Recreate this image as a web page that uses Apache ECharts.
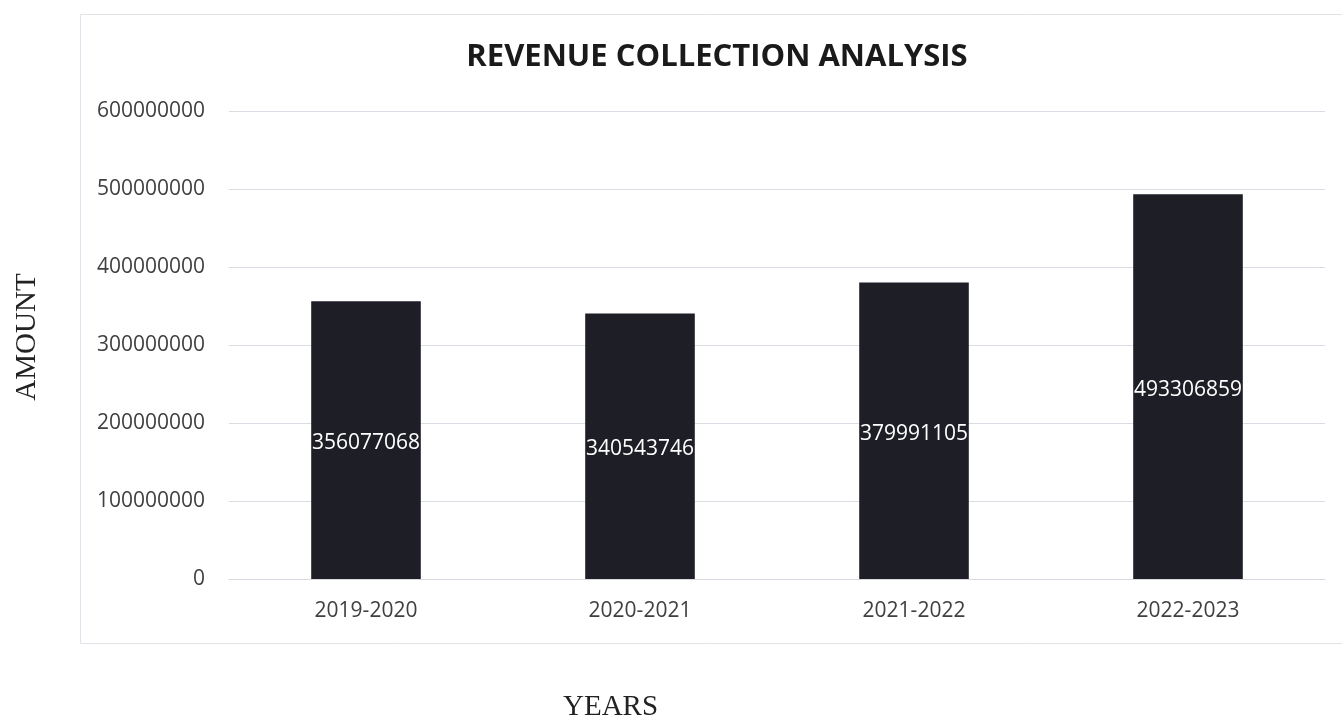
<!DOCTYPE html>
<html>
<head>
<meta charset="utf-8">
<script src="https://cdn.jsdelivr.net/npm/echarts@6/dist/echarts.min.js"></script>
<style>html,body{margin:0;padding:0;background:#fff;}#c{width:1342px;height:720px;}</style>
</head>
<body>
<div id="c"></div>
<script>
const categories = ['2019-2020', '2020-2021', '2021-2022', '2022-2023'];
const revenue = [356077068, 340543746, 379991105, 493306859];
const yTicks = { min: 0, max: 600000000, interval: 100000000 };
const xName = 'YEARS';
const yName = 'AMOUNT';

const chart = echarts.init(document.getElementById('c'));
chart.setOption({
  backgroundColor: '#ffffff',
  animation: false,
  title: {
    text: 'REVENUE COLLECTION ANALYSIS',
    left: 712, top: 37, textAlign: 'center',
    textStyle: { fontFamily: 'Open Sans', fontWeight: 'bold', fontSize: 31, color: '#1a1a1a' }
  },
  graphic: [{
    type: 'rect', left: 78, top: 12, z: -10,
    shape: { width: 1300, height: 629 },
    style: { fill: 'none', stroke: '#e2e2e8', lineWidth: 1 }
  }, {
    type: 'text', left: 563, top: 693,
    style: { text: xName, font: '29px "Liberation Serif"', fill: '#222' }
  }, {
    type: 'text', x: 27, y: 337, rotation: Math.PI / 2,
    style: { text: yName, font: '29px "Liberation Serif"', fill: '#222', align: 'center', verticalAlign: 'middle' }
  }],
  grid: { left: 229, right: 17, top: 111, bottom: 141, outerBoundsMode: 'none', containLabel: false },
  xAxis: {
    type: 'category', data: categories,
    axisLine: { lineStyle: { color: '#d8d8e0' } },
    axisTick: { show: false },
    axisLabel: { fontFamily: 'Open Sans', fontSize: 21, color: '#404040', margin: 22 }
  },
  yAxis: {
    type: 'value', min: yTicks.min, max: yTicks.max, interval: yTicks.interval,
    axisLine: { show: false }, axisTick: { show: false },
    splitLine: { lineStyle: { color: '#dcdce4' } },
    axisLabel: { fontFamily: 'Open Sans', fontSize: 21, color: '#404040', margin: 24, formatter: v => String(v) }
  },
  series: [{
    type: 'bar', data: revenue, barWidth: '40%',
    itemStyle: { color: '#1e1e26' },
    label: {
      show: true, position: 'inside', color: '#ffffff', offset: [0, 3],
      fontFamily: 'Open Sans', fontSize: 21, formatter: p => String(p.value)
    }
  }]
});
</script>
</body>
</html>
